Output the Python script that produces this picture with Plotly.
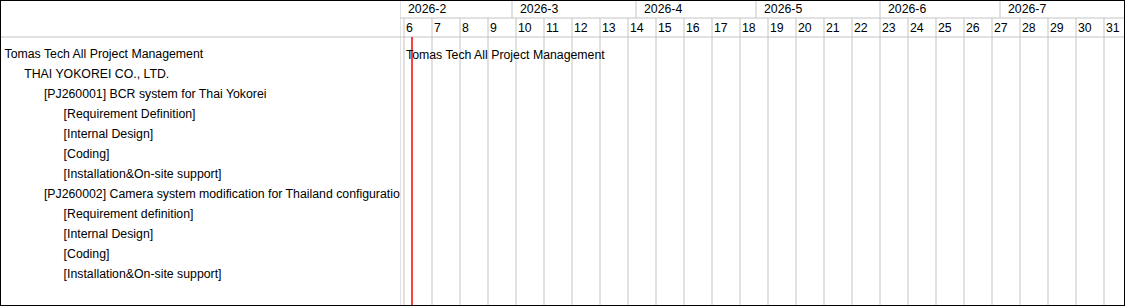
import datetime as dt
import plotly.graph_objects as go

# ---------------- data ----------------
task_names = [
    "Tomas Tech All Project Management",
    "THAI YOKOREI CO., LTD.",
    "[PJ260001] BCR system for Thai Yokorei",
    "[Requirement Definition]",
    "[Internal Design]",
    "[Coding]",
    "[Installation&On-site support]",
    "[PJ260002] Camera system modification for Thailand configuration",
    "[Requirement definition]",
    "[Internal Design]",
    "[Coding]",
    "[Installation&On-site support]",
]
task_levels = [0, 1, 2, 3, 3, 3, 3, 2, 3, 3, 3, 3]

month_labels = ["2026-2", "2026-3", "2026-4", "2026-5", "2026-6", "2026-7"]
month_starts = ["2026-02-01", "2026-03-01", "2026-04-01", "2026-05-01", "2026-06-01", "2026-07-01"]

week_numbers = [6, 7, 8, 9, 10, 11, 12, 13, 14, 15, 16, 17, 18, 19, 20, 21,
                22, 23, 24, 25, 26, 27, 28, 29, 30, 31]

today = "2026-02-04"
summary_label = "Tomas Tech All Project Management"
summary_start = "2026-02-02"

range_start = "2026-02-01"
range_end = "2026-08-01 06:00"

# ---------------- layout constants ----------------
W, H = 1125, 306
LEFT_W = 400
ROW_H = 20
FIRST_ROW_PX = 55
MONTH_ROW_PX = 18
HEADER_PX = 37
GRID = "#c4c4c4"
FONT = "Liberation Sans, Arial, sans-serif"
FS = 12.3


def py(px):
    return 1 - px / H


def monday_of_week(w):
    # ISO week -> Monday
    return dt.date.fromisocalendar(2026, w, 1)


week_mondays = [monday_of_week(w) for w in week_numbers]

fig = go.Figure()

# left panel labels
indent = [4.5 + 19.7 * lv for lv in task_levels]
fig.add_trace(go.Scatter(
    x=indent, y=list(range(len(task_names))), mode="text",
    text=task_names, textposition="middle right",
    textfont=dict(family=FONT, size=FS, color="#000"),
    cliponaxis=True, hoverinfo="skip", showlegend=False,
    xaxis="x", yaxis="y",
))

shapes = []
# week grid lines
for m in week_mondays:
    shapes.append(dict(type="line", xref="x2", yref="paper",
                       x0=str(m), x1=str(m), y0=0, y1=py(MONTH_ROW_PX),
                       line=dict(color=GRID, width=1)))
# month boundaries
for i, ms in enumerate(month_starts):
    y0 = 0 if i == 0 else py(MONTH_ROW_PX)
    shapes.append(dict(type="line", xref="x2", yref="paper",
                       x0=ms, x1=ms, y0=y0, y1=1,
                       line=dict(color=GRID, width=1)))
# horizontal separators
shapes.append(dict(type="line", xref="x2", yref="paper",
                   x0=range_start, x1=range_end, y0=py(MONTH_ROW_PX), y1=py(MONTH_ROW_PX),
                   line=dict(color=GRID, width=1)))
shapes.append(dict(type="line", xref="paper", yref="paper",
                   x0=0, x1=1, y0=py(HEADER_PX), y1=py(HEADER_PX),
                   line=dict(color=GRID, width=1)))
# today line
shapes.append(dict(type="line", xref="x2", yref="paper",
                   x0=today, x1=today, y0=0, y1=py(HEADER_PX),
                   line=dict(color="#ff0000", width=1.5)))
# outer border
shapes.append(dict(type="rect", xref="paper", yref="paper",
                   x0=0, x1=1, y0=0, y1=1,
                   line=dict(color="#000", width=2), fillcolor="rgba(0,0,0,0)"))

annotations = []
for lbl, ms in zip(month_labels, month_starts):
    annotations.append(dict(xref="x2", yref="paper", x=ms, y=py(MONTH_ROW_PX / 2),
                            text=lbl, showarrow=False, xanchor="left", yanchor="middle",
                            xshift=6, font=dict(family=FONT, size=FS, color="#000")))
for wn, m in zip(week_numbers, week_mondays):
    annotations.append(dict(xref="x2", yref="paper", x=str(m),
                            y=py((MONTH_ROW_PX + HEADER_PX) / 2),
                            text=str(wn), showarrow=False, xanchor="left", yanchor="middle",
                            xshift=0, font=dict(family=FONT, size=FS, color="#000")))
# summary label on timeline
annotations.append(dict(xref="x2", yref="y", x=summary_start, y=0,
                        text=summary_label, showarrow=False, xanchor="left", yanchor="middle",
                        xshift=0, font=dict(family=FONT, size=FS, color="#000")))

y_top = -FIRST_ROW_PX / ROW_H
y_bot = (H - FIRST_ROW_PX) / ROW_H

fig.update_layout(
    width=W, height=H,
    margin=dict(l=0, r=0, t=0, b=0),
    paper_bgcolor="white", plot_bgcolor="white",
    showlegend=False,
    xaxis=dict(domain=[0, LEFT_W / W], range=[0, LEFT_W], visible=False, fixedrange=True),
    xaxis2=dict(domain=[LEFT_W / W, 1], type="date", range=[range_start, range_end],
                visible=False, anchor="y", fixedrange=True),
    yaxis=dict(domain=[0, 1], range=[y_bot, y_top], visible=False, fixedrange=True),
    shapes=shapes,
    annotations=annotations,
)

fig.write_html("out.html", config={"displayModeBar": False})
